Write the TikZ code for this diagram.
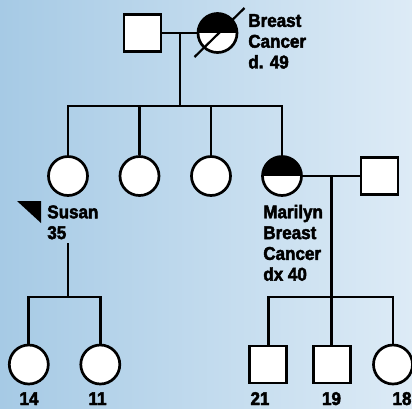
\documentclass[tikz,border=0pt]{standalone}
\usepackage{fontspec}
\setmainfont{Liberation Sans}
\newfontfamily\pedfont{Liberation Sans Bold}[FakeStretch=0.92, FakeBold=2.5]
\usetikzlibrary{positioning}
\definecolor{bgleft}{RGB}{166,202,229}
\definecolor{bgright}{RGB}{221,235,246}

\begin{document}
\begin{tikzpicture}[
    x=1pt, y=-1pt,
    line width=2.7pt,
    male/.style={draw, rectangle, fill=white, minimum size=37pt, inner sep=0pt},
    female/.style={draw, circle, fill=white, minimum size=39pt, inner sep=0pt},
    affected/.style={path picture={\fill[black] (path picture bounding box.west) rectangle (path picture bounding box.north east);}},
    note/.style={font=\pedfont\fontsize{18.5}{20.8}\selectfont, inner sep=0pt, align=left, anchor=north west},
    age/.style={font=\pedfont\fontsize{18.5}{20.8}\selectfont, inner sep=0pt, anchor=base},
]
  \useasboundingbox (0,0) rectangle (412,408);
  \shade[left color=bgleft, right color=bgright] (0,0) rectangle (412,408);
  \node[male] (gf) at (142.5,33) {};
  \node[female, affected] (gm) at (217.5,33) {};
  \node[female] (susan) at (68,176) {};
  \node[female] (sis2) at (139.5,176) {};
  \node[female] (sis3) at (211,176) {};
  \node[female, affected] (marilyn) at (282,176) {};
  \node[male] (mhusb) at (379.5,176) {};
  \node[female] (sd1) at (28.8,364.5) {};
  \node[female] (sd2) at (100.3,364.5) {};
  \node[male] (ms1) at (268.3,364.5) {};
  \node[male] (ms2) at (331.7,364.5) {};
  \node[female] (md1) at (393,364.5) {};
  \coordinate (c1) at (180,33);
  \coordinate (s1) at (180,106);
  \coordinate (c2) at (331.7,176);
  \coordinate (s2) at (331.7,297);
  \coordinate (c3) at (68,243);
  \coordinate (s3) at (68,297);
  \draw (gf) -- (gm);
  \draw (c1) -- (s1);
  \draw (susan) |- (s1) -| (marilyn);
  \draw (sis2) -- (sis2 |- s1);
  \draw (sis3) -- (sis3 |- s1);
  \draw (marilyn) -- (mhusb);
  \draw (c2) -- (s2);
  \draw (ms1) |- (s2) -| (md1);
  \draw (ms2) -- (s2);
  \draw (c3) -- (s3);
  \draw (sd1) |- (s3) -| (sd2);
  \draw[line width=2.2pt] ([shift={(-23,24)}]gm.center) -- ([shift={(27,-25)}]gm.center);
  \fill (17,201) -- (41,201) -- (41,223) -- cycle;
  \node[note] (gmlbl) at (247,12.8) {Breast\\Cancer\\d. 49};
  \node[note] (susanlbl) at (46,204) {Susan\\35};
  \node[note] (marilynlbl) at (262,203.5) {Marilyn\\Breast\\Cancer\\dx 40};
  \node[age] (a14) at (29,405) {14};
  \node[age] (a11) at (97.5,405) {11};
  \node[age] (a21) at (260,405) {21};
  \node[age] (a19) at (331.5,405) {19};
  \node[age] (a18) at (402,405) {18};
\end{tikzpicture}
\end{document}
